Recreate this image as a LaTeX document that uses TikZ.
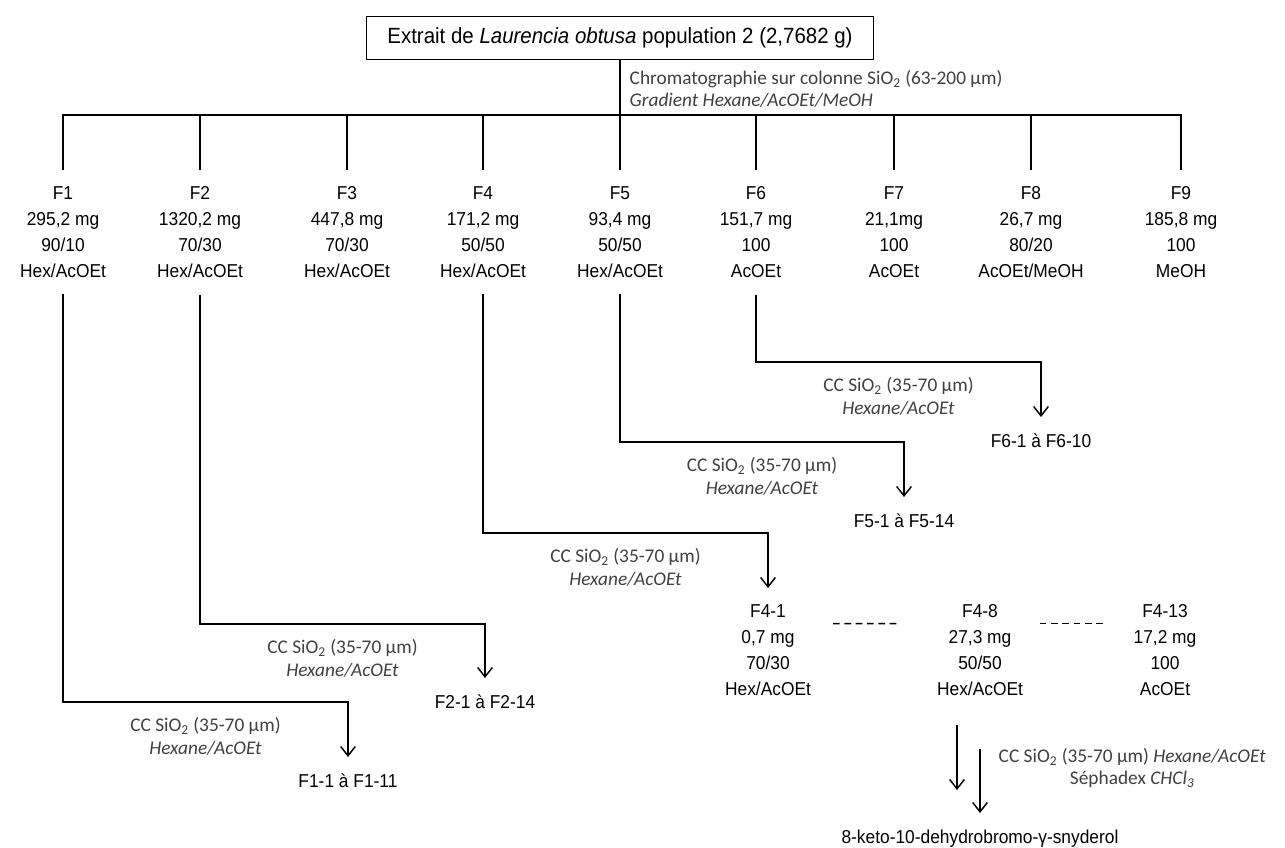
\documentclass[tikz,border=0pt]{standalone}
\usepackage{fontspec}
\setmainfont{Liberation Sans}[FakeStretch=0.93]
\newfontfamily\calibri{Carlito}
\usetikzlibrary{arrows.meta}
\definecolor{gristexte}{HTML}{404040}

\begin{document}
\begin{tikzpicture}[x=0.75pt, y=-0.75pt, line width=1.1pt,
    fleche/.style={-{Straight Barb[length=7pt,width=11pt]}},
    frac/.style={anchor=north, align=center, inner xsep=0pt, inner ysep=12pt, font=\fontsize{14}{19.5}\selectfont},
    lab/.style={align=center, inner sep=0pt, text=gristexte, font=\calibri\fontsize{14.5}{17}\selectfont},
    tirets/.style={dash pattern=on 5pt off 3.5pt}]
    \useasboundingbox (0,0) rectangle (1285,847);

    % extrait de départ
    \node[draw, minimum width=380pt, minimum height=32pt, font=\fontsize{16.5}{20}\selectfont] (extrait) at (620,38) {Extrait de \textit{Laurencia obtusa} population 2 (2,7682 g)};
    \coordinate (barre) at (620,115);
    \node[lab, anchor=west, align=left] (chromato) at (629,89) {Chromatographie sur colonne SiO\textsubscript{2} (63-200 µm)\\\textit{Gradient Hexane/AcOEt/MeOH}};

    % fractions
    \node[frac] (f1) at (63,170) {F1\\295,2 mg\\90/10\\Hex/AcOEt};
    \node[frac] (f2) at (200,170) {F2\\1320,2 mg\\70/30\\Hex/AcOEt};
    \node[frac] (f3) at (347,170) {F3\\447,8 mg\\70/30\\Hex/AcOEt};
    \node[frac] (f4) at (483,170) {F4\\171,2 mg\\50/50\\Hex/AcOEt};
    \node[frac] (f5) at (620,170) {F5\\93,4 mg\\50/50\\Hex/AcOEt};
    \node[frac] (f6) at (756,170) {F6\\151,7 mg\\100\\AcOEt};
    \node[frac] (f7) at (894,170) {F7\\21,1mg\\100\\AcOEt};
    \node[frac] (f8) at (1031,170) {F8\\26,7 mg\\80/20\\AcOEt/MeOH};
    \node[frac] (f9) at (1181,170) {F9\\185,8 mg\\100\\MeOH};

    \draw (extrait.south) -- (extrait.south |- barre);
    \draw (f1.north) |- (barre) -| (f9.north);
    \draw (f2.north) -- (f2.north |- barre);
    \draw (f3.north) -- (f3.north |- barre);
    \draw (f4.north) -- (f4.north |- barre);
    \draw (f5.north) -- (f5.north |- barre);
    \draw (f6.north) -- (f6.north |- barre);
    \draw (f7.north) -- (f7.north |- barre);
    \draw (f8.north) -- (f8.north |- barre);

    % sous-fractions
    \node[frac] (r1) at (348,757) {F1-1 à F1-11};
    \node[frac] (r2) at (485,678) {F2-1 à F2-14};
    \node[frac] (r5) at (904,497) {F5-1 à F5-14};
    \node[frac] (r6) at (1041,417) {F6-1 à F6-10};
    \coordinate (k1) at (348,702);
    \coordinate (k2) at (485,624);
    \coordinate (k4) at (768,533);
    \coordinate (k5) at (904,442);
    \coordinate (k6) at (1041,362);

    \node[frac] (f41) at (768,588) {F4-1\\0,7 mg\\70/30\\Hex/AcOEt};
    \node[frac] (f48) at (980,588) {F4-8\\27,3 mg\\50/50\\Hex/AcOEt};
    \node[frac] (f413) at (1165,588) {F4-13\\17,2 mg\\100\\AcOEt};

    \draw[fleche] (f1.south) -- (f1.south |- k1) -- node[lab, below=11pt] {CC SiO\textsubscript{2} (35-70 µm)\\\textit{Hexane/AcOEt}} (k1) -- (r1.north);
    \draw[fleche] (f2.south) -- (f2.south |- k2) -- node[lab, below=11pt] {CC SiO\textsubscript{2} (35-70 µm)\\\textit{Hexane/AcOEt}} (k2) -- (r2.north);
    \draw[fleche] (f4.south) -- (f4.south |- k4) -- node[lab, below=11pt] {CC SiO\textsubscript{2} (35-70 µm)\\\textit{Hexane/AcOEt}} (k4) -- (f41.north);
    \draw[fleche] (f5.south) -- (f5.south |- k5) -- node[lab, below=11pt] {CC SiO\textsubscript{2} (35-70 µm)\\\textit{Hexane/AcOEt}} (k5) -- (r5.north);
    \draw[fleche] (f6.south) -- (f6.south |- k6) -- node[lab, below=11pt] {CC SiO\textsubscript{2} (35-70 µm)\\\textit{Hexane/AcOEt}} (k6) -- (r6.north);

    \draw[tirets, shorten <=16pt, shorten >=27pt] ([yshift=20pt]f41.east) -- ([yshift=20pt]f48.west);
    \draw[tirets, shorten <=12pt, shorten >=20pt] ([yshift=20pt]f48.east) -- ([yshift=20pt]f413.west);

    % purification de F4-8
    \node[frac] (keto) at (980,813) {8-keto-10-dehydrobromo-γ-snyderol};
    \coordinate (a1h) at (957,725);
    \coordinate (a1b) at (957,790);
    \draw[fleche] (a1h) -- (a1b);
    \draw[fleche, shorten <=27pt] (f48.south) -- (keto.north);
    \node[lab, anchor=west] (cc48) at (998,768) {CC SiO\textsubscript{2} (35-70 µm) \textit{Hexane/AcOEt}\\Séphadex \textit{CHCl\textsubscript{3}}};
\end{tikzpicture}
\end{document}
